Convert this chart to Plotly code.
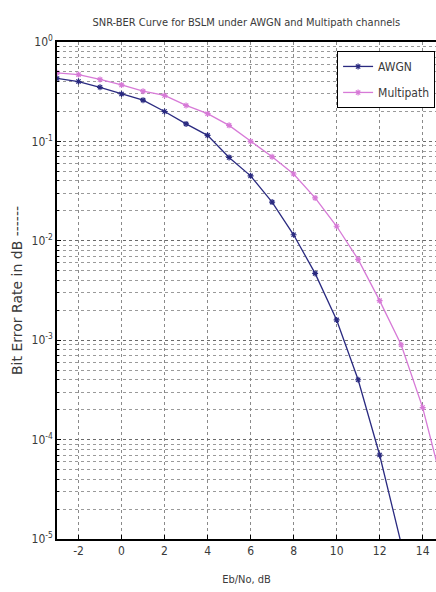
import plotly.graph_objects as go

snr_db = [-3, -2, -1, 0, 1, 2, 3, 4, 5, 6, 7, 8, 9, 10, 11, 12, 13, 14, 15]
ber_awgn = [0.43, 0.40, 0.35, 0.30, 0.26, 0.20, 0.15, 0.115, 0.069, 0.045, 0.0245,
            0.0115, 0.0047, 0.0016, 4.0e-4, 7.0e-5, 9.0e-6, None, None]
ber_multipath = [0.49, 0.47, 0.42, 0.37, 0.32, 0.29, 0.23, 0.19, 0.145, 0.10, 0.07,
                 0.047, 0.027, 0.014, 0.0065, 0.0025, 9.0e-4, 2.1e-4, 3.0e-5]

ytick_vals = [1, 0.1, 0.01, 0.001, 1e-4, 1e-5]
ytick_text = ["10<sup>0</sup>", "10<sup>-1</sup>", "10<sup>-2</sup>",
              "10<sup>-3</sup>", "10<sup>-4</sup>", "10<sup>-5</sup>"]
xtick_vals = [-2, 0, 2, 4, 6, 8, 10, 12, 14]
xtick_text = ["-2", "0", "2", "4", "6", "8", "10", "12", "14"]

FONT = "DejaVu Sans Condensed, Liberation Sans Narrow, Arial Narrow, Liberation Sans, sans-serif"
WIDE = "DejaVu Sans, Verdana, sans-serif"
TXT = "#3a3a3a"

fig = go.Figure()
fig.add_trace(go.Scatter(
    x=snr_db, y=ber_awgn, name="AWGN", mode="lines+markers", legendgroup="a",
    line=dict(color="#2a2a80", width=1.3),
    marker=dict(symbol="asterisk-open", size=5, color="#2a2a80",
                line=dict(color="#2a2a80", width=1.2)),
    cliponaxis=True))
fig.add_trace(go.Scatter(
    x=snr_db, y=ber_multipath, name="Multipath", mode="lines+markers", legendgroup="b",
    line=dict(color="#d77ad7", width=1.3),
    marker=dict(symbol="asterisk-open", size=5, color="#d77ad7",
                line=dict(color="#d77ad7", width=1.2)),
    cliponaxis=True))

fig.update_layout(
    width=436, height=592,
    margin=dict(l=57, r=0, t=42, b=53, autoexpand=False),
    paper_bgcolor="white", plot_bgcolor="white",
    font=dict(family=FONT, size=11, color=TXT),
    title=dict(text="SNR-BER Curve for BSLM under AWGN and Multipath channels",
               x=0.565, xanchor="center", y=0.963, yanchor="middle",
               font=dict(family=FONT, size=11, color=TXT)),
    showlegend=True,
    legend=dict(x=0.739, y=0.982, xanchor="left", yanchor="top",
                bgcolor="white", bordercolor="black", borderwidth=1,
                font=dict(family=FONT, size=12, color=TXT),
                itemwidth=30, tracegroupgap=7),
)
fig.update_xaxes(
    range=[-3, 14.62], tickvals=xtick_vals, ticktext=xtick_text,
    automargin=False,
    showgrid=True, gridcolor="#8a8a8a", griddash="dot", gridwidth=1,
    showline=True, linecolor="black", linewidth=1.5, mirror=True,
    ticks="inside", ticklen=4, tickcolor="black",
    zeroline=False,
    title=dict(text="Eb/No, dB", font=dict(family=FONT, size=11, color=TXT), standoff=18),
    tickfont=dict(family=FONT, size=12, color=TXT),
)
fig.update_yaxes(
    type="log", range=[-5, 0], tickvals=ytick_vals, ticktext=ytick_text,
    automargin=False,
    showgrid=True, gridcolor="#6a6a6a", griddash="dot", gridwidth=1,
    minor=dict(showgrid=True, gridcolor="#9a9a9a", griddash="dot", gridwidth=1,
               dtick="D1", ticks="inside", ticklen=2, tickcolor="black"),
    showline=True, linecolor="black", linewidth=1.5, mirror=True,
    ticks="inside", ticklen=4, tickcolor="black",
    zeroline=False,
    title=dict(text="Bit Error Rate in dB ------", font=dict(family=WIDE, size=14, color=TXT), standoff=6),
    tickfont=dict(family=FONT, size=12, color=TXT),
)

fig.write_html("out.html", post_script="document.body.style.margin='0';",
               config={"displayModeBar": False})
